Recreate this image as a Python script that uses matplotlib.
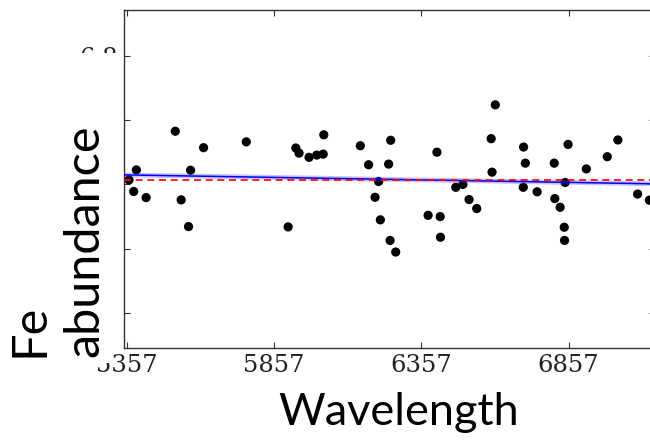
import numpy as np
import matplotlib
matplotlib.use("Agg")
from matplotlib import pyplot as plt
from matplotlib.patches import Rectangle

# line positions (Angstrom) and Fe abundances
wavelength = [
    5365, 5390, 5381, 5423, 5522, 5542, 5574, 5567, 5618, 5763,
    5905, 5931, 5942, 5976, 6002, 6024, 6026, 6150, 6178, 6246,
    6253, 6212, 6200, 6218, 6251, 6270, 6380, 6421, 6422, 6410,
    6474, 6498, 6519, 6545, 6608, 6594, 6597, 6704, 6710, 6703,
    6750, 6808, 6855, 6845, 6810, 6828, 6842, 6843, 6917, 6988,
    7024, 7091, 7131,
]
fe_abund = [
    6.414, 6.445, 6.378, 6.359, 6.565, 6.352, 6.444, 6.269, 6.514, 6.532,
    6.268, 6.513, 6.497, 6.484, 6.491, 6.494, 6.554, 6.520, 6.461, 6.463,
    6.537, 6.409, 6.360, 6.290, 6.226, 6.190, 6.304, 6.300, 6.236, 6.500,
    6.391, 6.400, 6.353, 6.325, 6.647, 6.542, 6.438, 6.516, 6.466, 6.391,
    6.377, 6.466, 6.524, 6.406, 6.356, 6.329, 6.267, 6.226, 6.448, 6.486,
    6.538, 6.370, 6.351,
]
x_ticks = [5357, 5857, 6357, 6857]
y_ticks = [6.0, 6.2, 6.4, 6.6, 6.8]

wl = np.array(wavelength)
fe = np.array(fe_abund)
slope, icept = np.polyfit(wl, fe, 1)

fig = plt.figure(figsize=(6.5, 4.43), dpi=100)
# the original figure is cropped on the right, so the axes run past the edge
ax = fig.add_axes([124 / 650, 95.3 / 443, 531 / 650, 338.2 / 443])

ax.scatter(wl, fe, s=44, color="black", edgecolors="none", zorder=2)

xs = np.array([5300, 7200])
ax.plot(xs, slope * xs + icept, color="#3a3aff", lw=3.5, alpha=0.3, zorder=3)
ax.plot(xs, slope * xs + icept, color="#0000ee", lw=1.1, zorder=3)
ax.axhline(fe.mean(), color="red", lw=1.2, ls=(0, (4.2, 2.8)), zorder=4)

ax.set_xticks(x_ticks)
ax.set_yticks(y_ticks)
ax.set_yticklabels([f"{v:.1f}" for v in y_ticks])
# limits after the ticks, otherwise set_*ticks widens the view
ax.set_xlim(5348, 7150)
ax.set_ylim(5.893, 6.943)
ax.tick_params(direction="in", length=4.3, width=0.8, color="#333333",
               top=True, right=True, labelsize=17.5, pad=4.5)
for lab in ax.get_xticklabels() + ax.get_yticklabels():
    lab.set_family("DejaVu Serif")
    lab.set_color("#222222")
for sp in ax.spines.values():
    sp.set_color("#333333")
    sp.set_linewidth(1.0)

# white box of the y label hides most of the y tick labels
for x0, y0, w, h in [(0, 96 / 443, 121 / 650, 294.3 / 443),
                     (0, 80 / 443, 110 / 650, 17 / 443)]:
    fig.patches.append(Rectangle((x0, y0), w, h, transform=fig.transFigure,
                                 facecolor="white", edgecolor="none",
                                 zorder=1.5))

fig.text(399 / 650, 18 / 443, "Wavelength", family="Lato", fontsize=32.5,
         ha="center", va="baseline")
fig.text(8 / 650, 86 / 443, "Fe\nabundance", family="Lato", fontsize=35,
         rotation=90, ha="left", va="bottom", multialignment="left",
         linespacing=1.3)

fig.savefig("out.png", dpi=100)
